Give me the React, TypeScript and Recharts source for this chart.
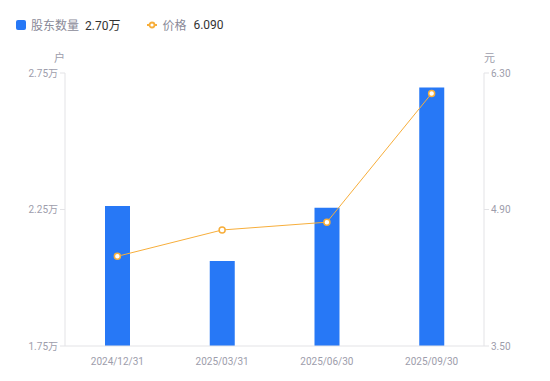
import React from 'react';
import { ComposedChart, Bar, Line, XAxis, YAxis } from 'recharts';

const dates = ['2024/12/31', '2025/03/31', '2025/06/30', '2025/09/30'];
const holders = [22630, 20610, 22560, 26970];
const prices = [4.42, 4.69, 4.77, 6.09];
const holderTicks = [17500, 22500, 27500];
const priceTicks = [3.5, 4.9, 6.3];

const BLUE = '#2778F6';
const ORANGE = '#F7AE3B';
const AXIS = '#E3E3E6';
const TEXT = '#9D9DAB';
const FONT = "Roboto, 'Noto Sans CJK SC', sans-serif";

const data = dates.map((d, i) => ({ date: d, holders: holders[i], price: prices[i] }));

export default function App() {
  const tick = { fill: TEXT, fontSize: 10, fontFamily: FONT };
  return (
    <div style={{ position: 'absolute', left: 0, top: 0, width: 550, height: 381, background: '#fff', fontFamily: FONT }}>
      <div style={{ position: 'absolute', left: 16, top: 16, display: 'flex', alignItems: 'center', fontSize: 12, whiteSpace: 'nowrap' }}>
        <span style={{ width: 10, height: 10, borderRadius: 2, background: BLUE, display: 'inline-block', marginRight: 5 }} />
        <span style={{ color: '#8A8A98' }}>股东数量</span>
        <span style={{ color: '#333', marginLeft: 6 }}>{(holders[3] / 10000).toFixed(2)}万</span>
        <svg width={10} height={10} style={{ marginLeft: 27, marginRight: 5 }}>
          <line x1={0} y1={5} x2={10} y2={5} stroke={ORANGE} strokeWidth={2} />
          <circle cx={5} cy={5} r={2.5} fill="#fff" stroke={ORANGE} strokeWidth={1.8} />
        </svg>
        <span style={{ color: '#8A8A98' }}>价格</span>
        <span style={{ color: '#333', marginLeft: 7 }}>6.090</span>
      </div>
      <div style={{ position: 'absolute', left: 54, top: 49, fontSize: 11, color: TEXT }}>户</div>
      <div style={{ position: 'absolute', left: 484, top: 49, fontSize: 11, color: TEXT }}>元</div>
      <ComposedChart width={550} height={381} data={data} margin={{ top: 73, right: 0, bottom: 0, left: 0 }}>
        <XAxis
          dataKey="date"
          height={35}
          tick={tick}
          tickLine={false}
          axisLine={{ stroke: AXIS }}
          tickMargin={6}
        />
        <YAxis
          yAxisId="left"
          width={65}
          domain={[17500, 27500]}
          ticks={holderTicks}
          tick={tick}
          tickLine={{ stroke: AXIS }}
          tickSize={5}
          axisLine={{ stroke: AXIS }}
          tickFormatter={(v: number) => `${(v / 10000).toFixed(2)}万`}
        />
        <YAxis
          yAxisId="right"
          orientation="right"
          width={66}
          domain={[3.5, 6.3]}
          ticks={priceTicks}
          tick={tick}
          tickLine={{ stroke: AXIS }}
          tickSize={5}
          axisLine={{ stroke: AXIS }}
          tickFormatter={(v: number) => v.toFixed(2)}
        />
        <Bar yAxisId="left" dataKey="holders" fill={BLUE} barSize={25} isAnimationActive={false} />
        <Line
          yAxisId="right"
          dataKey="price"
          type="linear"
          stroke={ORANGE}
          strokeWidth={1}
          dot={{ r: 3, fill: '#fff', stroke: ORANGE, strokeWidth: 1.5 }}
          isAnimationActive={false}
        />
      </ComposedChart>
    </div>
  );
}
